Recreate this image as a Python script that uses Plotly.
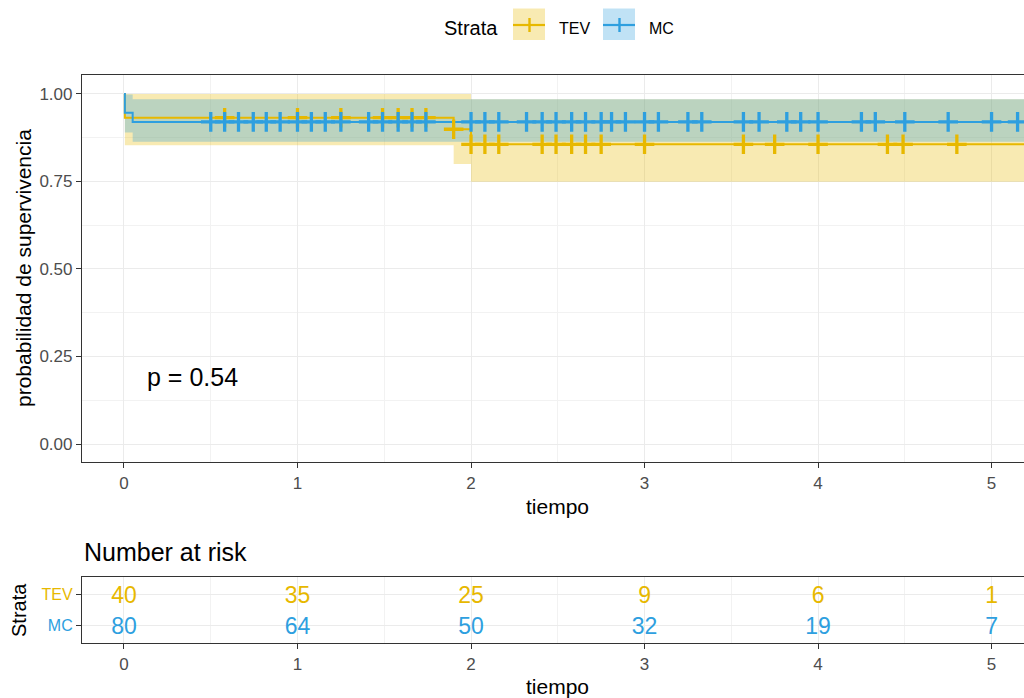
import numpy as np
import plotly.graph_objects as go

# ---------------- data ----------------
strata = ["TEV", "MC"]
colors = {"TEV": "#E7B800", "MC": "#2E9FDF"}
fills = {"TEV": "rgba(231,184,0,0.3)", "MC": "rgba(46,159,223,0.3)"}

# Kaplan-Meier step curves (time of change, survival, upper CI, lower CI)
tev_time = [0.0, 0.005, 1.90, 2.00, 5.40]
tev_surv = [1.0, 0.932, 0.899, 0.856, 0.856]
tev_upper = [1.0, 1.0, 1.0, 0.985, 0.985]
tev_lower = [1.0, 0.853, 0.800, 0.749, 0.749]

mc_time = [0.0, 0.005, 0.05, 5.40]
mc_surv = [1.0, 0.946, 0.920, 0.920]
mc_upper = [1.0, 0.998, 0.985, 0.985]
mc_lower = [1.0, 0.890, 0.863, 0.863]

# censoring times
tev_censor = [0.58, 1.00, 1.25, 1.49, 1.58, 1.66, 1.74, 1.90, 2.00, 2.08, 2.16,
              2.41, 2.49, 2.58, 2.66, 2.75, 3.00, 3.57, 3.75, 4.00, 4.40, 4.49, 4.80]
mc_censor = [0.50, 0.58, 0.66, 0.745, 0.82, 0.90, 1.00, 1.08, 1.16, 1.25, 1.41,
             1.49, 1.58, 1.66, 1.74, 2.00, 2.08, 2.16, 2.32, 2.41, 2.49, 2.58,
             2.66, 2.75, 2.81, 2.89, 3.00, 3.08, 3.25, 3.33, 3.57, 3.66, 3.82,
             3.90, 4.00, 4.25, 4.33, 4.50, 4.75, 5.00, 5.15]

# number at risk
risk_times = [0, 1, 2, 3, 4, 5]
tev_risk = [40, 35, 25, 9, 6, 1]
mc_risk = [80, 64, 50, 32, 19, 7]

p_value_text = "p = 0.54"
x_ticks = [0, 1, 2, 3, 4, 5]
y_ticks = [0.0, 0.25, 0.5, 0.75, 1.0]
y_ticklabels = ["0.00", "0.25", "0.50", "0.75", "1.00"]

# ---------------- layout helpers ----------------
W, H = 1024, 698
FONT = "Liberation Sans, Arial, sans-serif"


def px_x(p):
    return p / W


def px_y(p):
    return 1 - p / H


def step_lookup(times, values, t):
    idx = np.searchsorted(np.array(times), t, side="right") - 1
    return float(np.array(values)[idx])


curves = {
    "TEV": (tev_time, tev_surv, tev_upper, tev_lower, tev_censor),
    "MC": (mc_time, mc_surv, mc_upper, mc_lower, mc_censor),
}

fig = go.Figure()

# confidence bands
for s in strata:
    t, sv, up, lo, cens = curves[s]
    fig.add_trace(go.Scatter(x=t, y=lo, mode="lines", line=dict(width=0, shape="hv"),
                             showlegend=False, hoverinfo="skip"))
    fig.add_trace(go.Scatter(x=t, y=up, mode="lines", line=dict(width=0, shape="hv"),
                             fill="tonexty", fillcolor=fills[s],
                             showlegend=False, hoverinfo="skip"))

# survival lines
for s in strata:
    t, sv, up, lo, cens = curves[s]
    fig.add_trace(go.Scatter(x=t, y=sv, mode="lines",
                             line=dict(color=colors[s], width=2, shape="hv"),
                             showlegend=False, hoverinfo="skip"))

# censor marks
for s in strata:
    t, sv, up, lo, cens = curves[s]
    cy = [step_lookup(t, sv, c) for c in cens]
    fig.add_trace(go.Scatter(x=cens, y=cy, mode="markers",
                             marker=dict(symbol="cross-thin", size=14,
                                         line=dict(color=colors[s], width=3.3)),
                             showlegend=False, hoverinfo="skip"))

# risk table text (nudged slightly below the row centre, as in the reference)
for s, vals, yv in (("TEV", tev_risk, 1), ("MC", mc_risk, 0)):
    fig.add_trace(go.Scatter(x=risk_times, y=[yv - 0.1] * len(risk_times), mode="text",
                             text=[str(v) for v in vals],
                             textfont=dict(family=FONT, size=23, color=colors[s]),
                             textposition="middle center",
                             xaxis="x2", yaxis="y2",
                             showlegend=False, hoverinfo="skip"))

x_range = [-0.242, 5.187]
tickfont = dict(family=FONT, size=17, color="#4D4D4D")
grid = "#EBEBEB"

common_x = dict(range=x_range, domain=[px_x(82), 1.0], tickvals=x_ticks,
                ticks="outside", ticklen=5, tickcolor="#333333", tickwidth=1,
                showline=True, mirror=True, linecolor="#333333", linewidth=1.2,
                showgrid=True, gridcolor=grid, gridwidth=1.2, zeroline=False,
                minor=dict(dtick=0.5, tick0=0, showgrid=True, gridcolor="#F2F2F2", gridwidth=1),
                tickfont=tickfont, automargin=False, fixedrange=True)

fig.update_layout(
    width=W, height=H,
    margin=dict(l=0, r=0, t=0, b=0),
    paper_bgcolor="white", plot_bgcolor="white",
    showlegend=False,
    xaxis=dict(common_x, anchor="y"),
    yaxis=dict(range=[-0.0514, 1.054], domain=[px_y(462), px_y(75)],
               tickvals=y_ticks, ticktext=y_ticklabels,
               ticks="outside", ticklen=5, tickcolor="#333333", tickwidth=1,
               showline=True, mirror=False, linecolor="#333333", linewidth=1.2,
               showgrid=True, gridcolor=grid, gridwidth=1.2, zeroline=False,
               minor=dict(dtick=0.125, tick0=0, showgrid=True, gridcolor="#F2F2F2", gridwidth=1),
               tickfont=tickfont, automargin=False, fixedrange=True, anchor="x"),
    xaxis2=dict(common_x, anchor="y2"),
    yaxis2=dict(range=[-0.57, 1.57], domain=[px_y(643), px_y(577)],
                tickvals=[1, 0],
                ticktext=["<span style='color:%s'>TEV</span>" % colors["TEV"],
                          "<span style='color:%s'>MC</span>" % colors["MC"]],
                ticks="outside", ticklen=5, tickcolor="#333333", tickwidth=1,
                showline=True, mirror=False, linecolor="#333333", linewidth=1.2,
                showgrid=True, gridcolor=grid, gridwidth=1.2, zeroline=False,
                tickfont=dict(family=FONT, size=16, color="#4D4D4D"),
                automargin=False, fixedrange=True, anchor="x2"),
)


def label(text, x, y, size, angle=0, xanchor="center"):
    return dict(text=text, x=px_x(x), y=px_y(y), xref="paper", yref="paper",
                xanchor=xanchor, yanchor="middle", textangle=angle, showarrow=False,
                font=dict(family=FONT, size=size, color="black"))


ann = [
    label("probabilidad de supervivencia", 23, 268, 21, angle=-90),
    label("tiempo", 557, 506, 21),
    label("tiempo", 557, 686, 21),
    label("Number at risk", 82, 552, 25, xanchor="left"),
    label("Strata", 19, 610, 20, angle=-90),
    dict(text=p_value_text, x=0.12, y=0.19, xref="x", yref="y", xanchor="left",
         yanchor="middle", showarrow=False, font=dict(family=FONT, size=25, color="black")),
    label("Strata", 442, 28, 20, xanchor="left"),
]

# manual legend
shapes = []
legend_items = [("TEV", 513, 557), ("MC", 603, 647)]
for s, bx, tx in legend_items:
    shapes.append(dict(type="rect", xref="paper", yref="paper",
                       x0=px_x(bx), x1=px_x(bx + 32), y0=px_y(40), y1=px_y(8.5),
                       fillcolor=fills[s], line=dict(width=0)))
    shapes.append(dict(type="line", xref="paper", yref="paper",
                       x0=px_x(bx), x1=px_x(bx + 32), y0=px_y(25), y1=px_y(25),
                       line=dict(color=colors[s], width=2.2)))
    shapes.append(dict(type="line", xref="paper", yref="paper",
                       x0=px_x(bx + 16.5), x1=px_x(bx + 16.5), y0=px_y(18), y1=px_y(32),
                       line=dict(color=colors[s], width=2.4)))
    ann.append(label(s, tx, 28, 16, xanchor="left"))

fig.update_layout(annotations=ann, shapes=shapes)

fig.write_html("out.html", config={"displayModeBar": False},
               post_script="document.body.style.margin='0';document.body.style.overflow='hidden';")
